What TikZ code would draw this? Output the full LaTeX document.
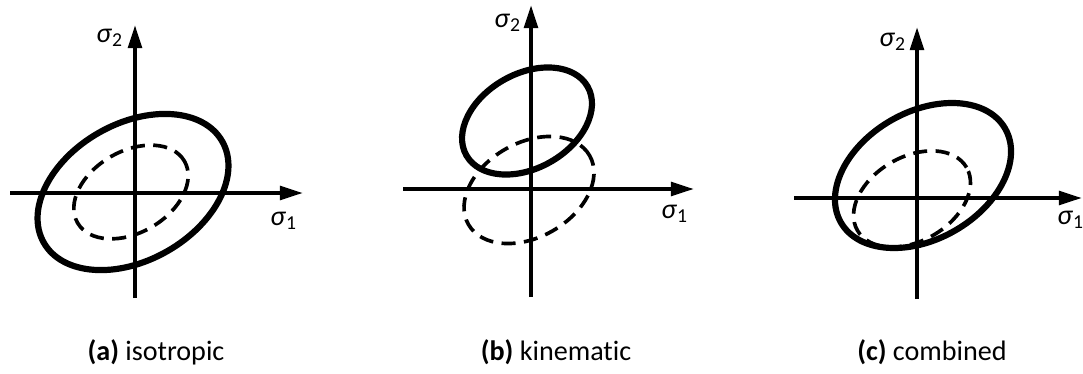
\documentclass[tikz,border=0pt]{standalone}
\usepackage{fontspec}
\setmainfont[Ligatures=NoCommon]{Carlito}
\usetikzlibrary{arrows.meta}
\newcommand{\stresslbl}[1]{\textit{σ}\textsubscript{#1}}

\begin{document}
\begin{tikzpicture}[x=0.0125cm, y=0.0125cm, every node/.style={font=\normalsize, inner sep=0pt},
    axis/.style={line width=1.4pt, -{Triangle[length=8.2pt,width=4.8pt]}},
    yieldnew/.style={line width=2.2pt},
    yieldold/.style={line width=1.3pt, dash pattern=on 5pt off 3pt}]
  \useasboundingbox (0,0) rectangle (1083,373);

  % (a) isotropic hardening
  \begin{scope}[shift={(135,180)}]
    \coordinate (aW) at (-125,0);
    \coordinate (aE) at (168,0);
    \coordinate (aS) at (0,-105);
    \coordinate (aN) at (0,168);
    \draw[axis] (aW) -- (aE);
    \draw[axis] (aS) -- (aN);
    \node (as1) at (149,-28) {\stresslbl{1}};
    \node (as2) at (-25,155) {\stresslbl{2}};
    \draw[yieldold, rotate around={30:(-4,1)}] (-4,1) ellipse [x radius=61.7, y radius=40.7];
    \draw[yieldnew, rotate around={29.5:(-2,1)}] (-2,1) ellipse [x radius=102.6, y radius=68.4];
  \end{scope}
  \node (capa) at (156,21) {\textbf{(a)} isotropic};

  % (b) kinematic hardening
  \begin{scope}[shift={(531,184)}]
    \coordinate (bW) at (-128,0);
    \coordinate (bE) at (163,0);
    \coordinate (bS) at (0,-108);
    \coordinate (bN) at (0,184);
    \draw[axis] (bW) -- (bE);
    \draw[axis] (bS) -- (bN);
    \node (bs1) at (144,-25) {\stresslbl{1}};
    \node (bs2) at (-23,166) {\stresslbl{2}};
    \draw[yieldold, rotate around={29.5:(-2,-1)}] (-2,-1) ellipse [x radius=69.7, y radius=47.2];
    \draw[yieldnew, rotate around={29.5:(-4,68)}] (-4,68) ellipse [x radius=69.7, y radius=47.2];
  \end{scope}
  \node (capb) at (556,21) {\textbf{(b)} kinematic};

  % (c) combined hardening
  \begin{scope}[shift={(917,175)}]
    \coordinate (cW) at (-123,0);
    \coordinate (cE) at (165,0);
    \coordinate (cS) at (0,-101);
    \coordinate (cN) at (0,171);
    \draw[axis] (cW) -- (cE);
    \draw[axis] (cS) -- (cN);
    \node (cs1) at (154,-22) {\stresslbl{1}};
    \node (cs2) at (-24,156) {\stresslbl{2}};
    \draw[yieldold, rotate around={30:(-5,-1)}] (-5,-1) ellipse [x radius=63, y radius=42];
    \draw[yieldnew, rotate around={29.7:(6,22.5)}] (6,22.5) ellipse [x radius=94.6, y radius=63.7];
  \end{scope}
  \node (capc) at (932,21) {\textbf{(c)} combined};
\end{tikzpicture}
\end{document}
